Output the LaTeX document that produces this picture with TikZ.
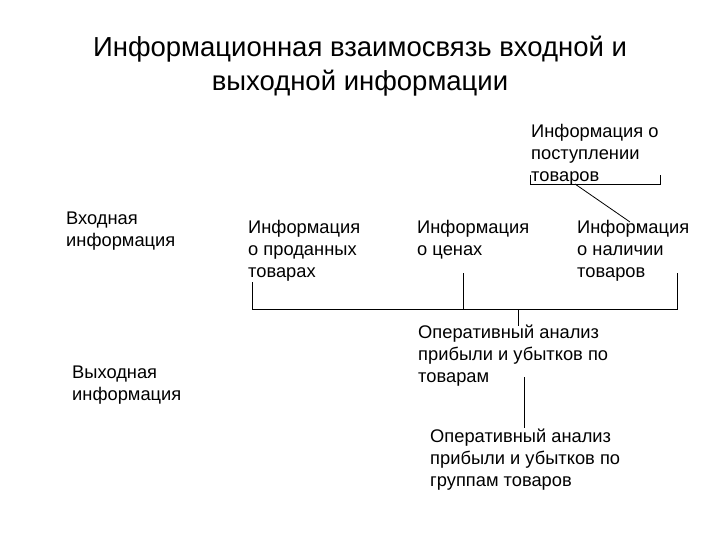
\documentclass[tikz,border=0pt]{standalone}
\usepackage{fontspec}
\setmainfont{Liberation Sans}
\begin{document}
\begin{tikzpicture}[x=1pt,y=-1pt,
  txt/.style={anchor=north west,inner sep=0pt,align=left,font=\fontsize{18.3}{22}\selectfont},
  ln/.style={draw,line width=0.8pt}]
\useasboundingbox (0,0) rectangle (720,540);
\node[anchor=north,inner sep=0pt,align=center,font=\fontsize{27.5}{34}\selectfont] (title) at (360,36) {Информационная взаимосвязь входной и\\выходной информации};
\node[txt] (post) at (531,124) {Информация о\\поступлении\\товаров};
\node[txt] (vin) at (66,212) {Входная\\информация};
\node[txt] (prod) at (248,220) {Информация\\о проданных\\товарах};
\node[txt] (cen) at (417,220) {Информация\\о ценах};
\node[txt] (nal) at (577,220) {Информация\\о наличии\\товаров};
\node[txt] (vyh) at (72,366) {Выходная\\информация};
\node[txt] (op1) at (418,325) {Оперативный анализ\\прибыли и убытков по\\товарам};
\node[txt] (op2) at (430,429) {Оперативный анализ\\прибыли и убытков по\\группам товаров};
\coordinate (pl) at (530,175);
\coordinate (pr) at (660,175);
\draw[ln] (pl) -- (530,184) -- (660,184) -- (pr);
\draw[ln] (575,184) -- (630,222);
\coordinate (bl) at (252,282);
\coordinate (br) at (677,273);
\draw[ln] (bl) -- (252,309) -- (677,309) -- (br);
\draw[ln] (463,273) -- (463,309);
\draw[ln] (518,309) -- (518,326);
\draw[ln] (524,377) -- (524,428);
\end{tikzpicture}
\end{document}
